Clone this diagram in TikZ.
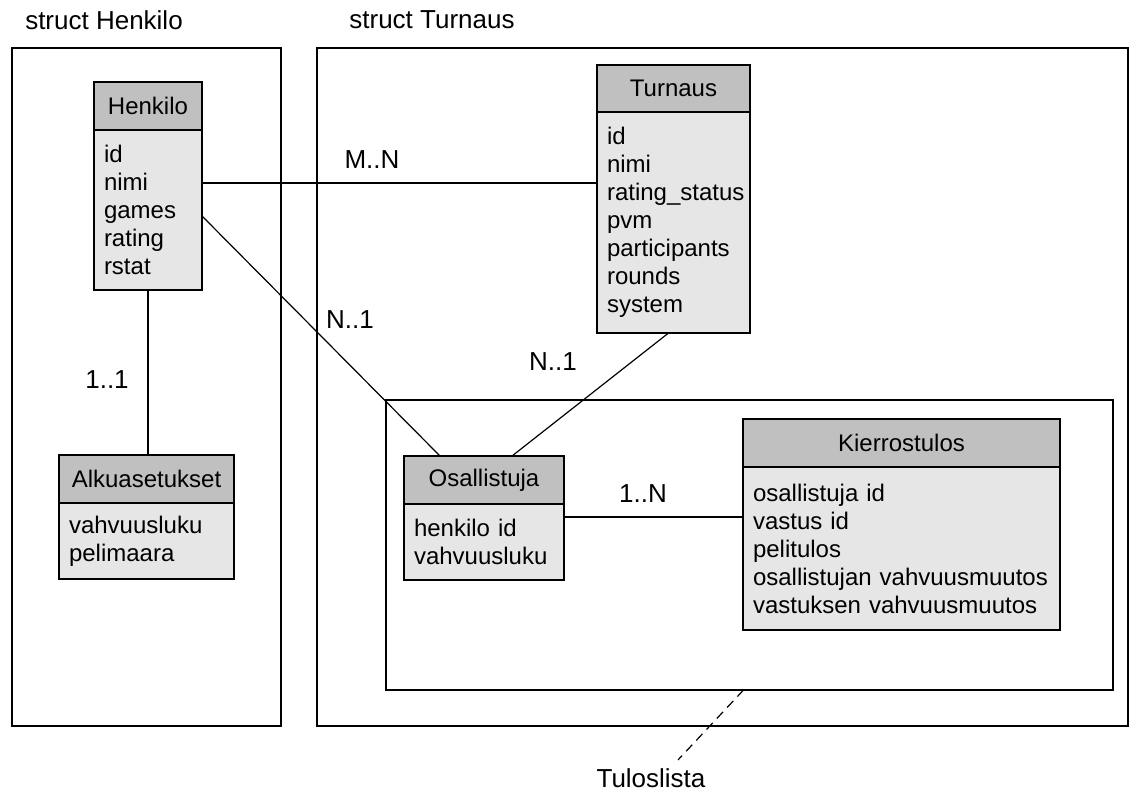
\documentclass[tikz,border=0pt]{standalone}
\usepackage{fontspec}
\setmainfont{Liberation Sans}
\usetikzlibrary{positioning}
\definecolor{hdrgray}{HTML}{C0C0C0}
\definecolor{bodygray}{HTML}{E6E6E6}
\newcommand\entfont{\fontsize{24}{28}\selectfont}
\newcommand\lblfont{\fontsize{26}{30}\selectfont}
\tikzset{
  frame/.style={draw, line width=1.2pt, anchor=north west, inner sep=0pt, outer sep=0pt},
  enthead/.style={draw, fill=hdrgray, line width=1.2pt, anchor=north west,
                  inner sep=0pt, outer sep=0pt, minimum height=48pt, font=\entfont},
  entbody/.style={draw, fill=bodygray, line width=1.2pt, below=0pt of #1,
                  inner xsep=10pt, inner ysep=0pt, outer sep=0pt, align=left, font=\entfont},
  rel/.style={font=\lblfont},
  link/.style={line width=1.2pt}
}

\begin{document}
\begin{tikzpicture}[x=1pt, y=-1pt]
  \useasboundingbox[fill=white] (0,0) rectangle (1139,796);

  % the three frames
  \node[frame, minimum width=269pt, minimum height=678pt] (hframe) at (12,48) {};
  \node[frame, minimum width=811pt, minimum height=678pt] (tframe) at (317,48) {};
  \node[frame, minimum width=727pt, minimum height=290pt] (lframe) at (386,400) {};
  \node[rel] (hname) at (104,20) {struct Henkilo};
  \node[rel] (tname) at (432,20) {struct Turnaus};
  \node[rel] (lname) at (651,778) {Tuloslista};

  % entities
  \node[enthead, minimum width=108pt] (henkilo) at (94,82) {Henkilo};
  \node[entbody=henkilo, text width=88pt, minimum height=160pt] (henkiloB)
    {id\\nimi\\games\\rating\\rstat};

  \node[enthead, minimum width=175pt] (alku) at (59,455) {Alkuasetukset};
  \node[entbody=alku, text width=155pt, minimum height=76pt] (alkuB)
    {vahvuusluku\\pelimaara};

  \node[enthead, minimum width=153pt, minimum height=47pt] (turnaus) at (597,65) {Turnaus};
  \node[entbody=turnaus, text width=133pt, minimum height=221pt] (turnausB)
    {id\\nimi\\rating\_status\\pvm\\participants\\rounds\\system};

  \node[enthead, minimum width=160pt] (osall) at (404,456) {Osallistuja};
  \node[entbody=osall, text width=140pt, minimum height=76pt] (osallB)
    {henkilo id\\vahvuusluku};

  \node[enthead, minimum width=317pt] (kierros) at (743,419) {Kierrostulos};
  \node[entbody=kierros, text width=297pt, minimum height=163pt] (kierrosB)
    {osallistuja id\\vastus id\\pelitulos\\osallistujan vahvuusmuutos\\vastuksen vahvuusmuutos};

  % relations
  \draw[link] (henkiloB.north east) ++(0,53) coordinate (mn) -- (mn -| turnausB.west);
  \node[rel] (mnlbl) at (372,160) {M..N};
  \draw[link] (henkiloB.north east) ++(0,86) -- ([xshift=36pt]osall.north west);
  \node[rel] (hoLbl) at (350,320) {N..1};
  \draw[link] ([xshift=-5pt]turnausB.south) -- ([xshift=108pt]osall.north west);
  \node[rel] (toLbl) at (553,362) {N..1};
  \draw[link] (henkiloB.south) -- (henkiloB.south |- alku.north);
  \node[rel] (haLbl) at (107,380) {1..1};
  \draw[link] (osallB.north east) ++(0,13) coordinate (ok) -- (ok -| kierrosB.west);
  \node[rel] (okLbl) at (643,494) {1..N};
  \draw[link, dash pattern=on 9pt off 6pt] ([xshift=-6pt]lframe.south) -- ([xshift=27pt,yshift=5pt]lname.north);
\end{tikzpicture}
\end{document}
